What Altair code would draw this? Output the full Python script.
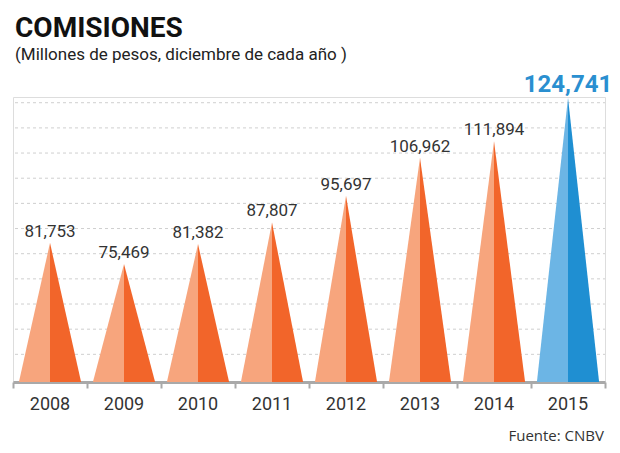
import altair as alt
import pandas as pd

years = ["2008", "2009", "2010", "2011", "2012", "2013", "2014", "2015"]
values = [81753, 75469, 81382, 87807, 95697, 106962, 111894, 124741]
light_colors = ["#f7a57d"] * 7 + ["#6cb5e5"]
dark_colors = ["#f2652a"] * 7 + ["#1f8fd2"]
grid_values = [48700, 56160, 63620, 71080, 78540, 86000, 93460, 100920, 108380, 115840, 123300]
title = "COMISIONES"
subtitle = "(Millones de pesos, diciembre de cada año )"
source = "Fuente: CNBV"

FONT = "Roboto"
Y_MIN, Y_MAX = 40500, 125000
HALF = 0.42
W, H = 592, 285

rows = []
for i, (yr, v) in enumerate(zip(years, values)):
    c = i + 0.5
    rows += [
        {"key": f"{yr}L", "x": c - HALF, "y": Y_MIN, "fill": light_colors[i]},
        {"key": f"{yr}L", "x": c, "y": v, "fill": light_colors[i]},
        {"key": f"{yr}R", "x": c, "y": v, "fill": dark_colors[i]},
        {"key": f"{yr}R", "x": c + HALF, "y": Y_MIN, "fill": dark_colors[i]},
    ]
tri = pd.DataFrame(rows)

lab = pd.DataFrame({
    "year": years,
    "value": values,
    "xc": [i + 0.5 for i in range(len(years))],
    "label": [f"{v:,}" for v in values],
})

xs = alt.Scale(domain=[0, len(years)], nice=False, zero=False)
ys = alt.Scale(domain=[Y_MIN, Y_MAX], nice=False, zero=False)

grid = alt.Chart(pd.DataFrame({"g": grid_values})).mark_rule(
    color="#cfcfcf", strokeDash=[3, 3], strokeWidth=1
).encode(y=alt.Y("g:Q", scale=ys, axis=None), x=alt.value(2), x2=alt.value(W))

areas = alt.Chart(tri).mark_area(opacity=1, interpolate="linear").encode(
    x=alt.X("x:Q", scale=xs, axis=alt.Axis(
        values=list(range(len(years) + 1)), labels=False, title=None, grid=False,
        domainColor="#a9a9a9", domainWidth=3, tickColor="#a9a9a9", tickWidth=2, tickSize=6)),
    y=alt.Y("y:Q", scale=ys, axis=None),
    y2=alt.datum(Y_MIN),
    detail="key:N",
    fill=alt.Fill("fill:N", scale=None),
)

lab_main = alt.Chart(lab[lab["year"] != "2015"]).mark_text(
    font=FONT, fontSize=17, color="#333333", baseline="alphabetic", dy=-6
).encode(x=alt.X("xc:Q", scale=xs), y=alt.Y("value:Q", scale=ys), text="label:N")

lab_last = alt.Chart(lab[lab["year"] == "2015"]).mark_text(
    font=FONT, fontSize=24, fontWeight="bold", color="#2a8fd0",
    baseline="alphabetic", dy=-6
).encode(x=alt.X("xc:Q", scale=xs), y=alt.Y("value:Q", scale=ys), text="label:N")

year_txt = alt.Chart(lab).mark_text(
    font=FONT, fontSize=18, color="#333333", baseline="alphabetic"
).encode(x=alt.X("xc:Q", scale=xs), y=alt.value(H + 28), text="year:N")

title_txt = alt.Chart(pd.DataFrame({"t": [title]})).mark_text(
    font=FONT, fontSize=28, fontWeight="bold", color="#111111",
    align="left", baseline="alphabetic"
).encode(x=alt.value(2), y=alt.value(-60), text="t:N")

sub_txt = alt.Chart(pd.DataFrame({"t": [subtitle]})).mark_text(
    font=FONT, fontSize=17, color="#222222",
    align="left", baseline="alphabetic"
).encode(x=alt.value(2), y=alt.value(-37), text="t:N")

src_txt = alt.Chart(pd.DataFrame({"t": [source]})).mark_text(
    font="Open Sans", fontSize=15, color="#333333", align="right", baseline="alphabetic"
).encode(x=alt.value(W - 1), y=alt.value(H + 59), text="t:N")

chart = alt.layer(grid, areas, lab_main, lab_last, year_txt, title_txt, sub_txt, src_txt).properties(
    width=W, height=H,
    autosize=alt.AutoSizeParams(type="none"),
    padding={"left": 5, "top": 89, "right": 7, "bottom": 64},
).configure_view(stroke=None).configure(background="white")

chart.save("out.html", embed_options={"renderer": "svg", "actions": False})
